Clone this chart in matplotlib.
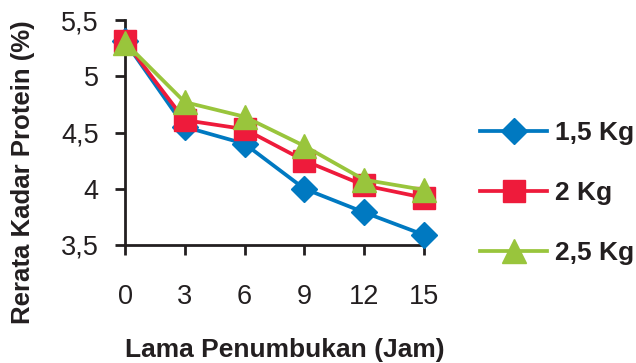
import matplotlib.pyplot as plt

# === ДАННЫЕ ===
lama_jam = [0, 3, 6, 9, 12, 15]
kg_1_5 = [5.31, 4.55, 4.40, 4.00, 3.79, 3.59]
kg_2 = [5.31, 4.61, 4.53, 4.25, 4.03, 3.92]
kg_2_5 = [5.30, 4.77, 4.64, 4.38, 4.08, 3.99]
y_ticks = [3.5, 4, 4.5, 5, 5.5]
y_tick_labels = ['3,5', '4', '4,5', '5', '5,5']
series_labels = ['1,5 Kg', '2 Kg', '2,5 Kg']

plt.rcParams['font.family'] = ['Liberation Sans', 'DejaVu Sans']
TEXT_COLOR = '#231F20'

fig = plt.figure(figsize=(6.36, 3.63), dpi=100)
ax = fig.add_axes([125 / 636, 1 - 245 / 363, (424 - 125) / 636, (245 - 20) / 363])

ax.plot(lama_jam, kg_1_5, color='#0079C1', lw=2.7, marker='D', ms=13,
        label=series_labels[0], clip_on=False, zorder=3)
ax.plot(lama_jam, kg_2, color='#EE1B3B', lw=2.7, marker='s', ms=15.5,
        label=series_labels[1], clip_on=False, zorder=4)
ax.plot(lama_jam, kg_2_5, color='#99C53C', lw=2.7, marker='^', ms=17,
        label=series_labels[2], clip_on=False, zorder=5)

ax.set_xlim(0, 15)
ax.set_ylim(3.5, 5.5)
ax.set_xticks(lama_jam)
ax.set_yticks(y_ticks)
ax.set_yticklabels(y_tick_labels)

for side in ['top', 'right']:
    ax.spines[side].set_visible(False)
for side in ['left', 'bottom']:
    ax.spines[side].set_linewidth(2)
    ax.spines[side].set_color(TEXT_COLOR)

ax.tick_params(axis='x', direction='out', length=7, width=2, pad=21,
               labelsize=19.5, colors=TEXT_COLOR)
ax.tick_params(axis='y', direction='out', length=7, width=2, pad=12,
               labelsize=19.5, colors=TEXT_COLOR)

# подписи осей
fig.text(285 / 636, 1 - 350 / 363, 'Lama Penumbukan (Jam)', fontsize=19,
         fontweight='bold', color=TEXT_COLOR, ha='center', va='center')
fig.text(23 / 636, 1 - 172 / 363, 'Rerata Kadar Protein (%)', fontsize=18.5,
         fontweight='bold', color=TEXT_COLOR, ha='center', va='center',
         rotation=90)

leg = fig.legend(loc='center left', bbox_to_anchor=(480 / 636, 1 - 193 / 363),
                 frameon=False, prop={'size': 19, 'weight': 'bold'},
                 handlelength=2.55, labelspacing=1.37, handletextpad=0.3,
                 borderaxespad=0, borderpad=0)
for t in leg.get_texts():
    t.set_color(TEXT_COLOR)

plt.savefig('out.png', dpi=100)
